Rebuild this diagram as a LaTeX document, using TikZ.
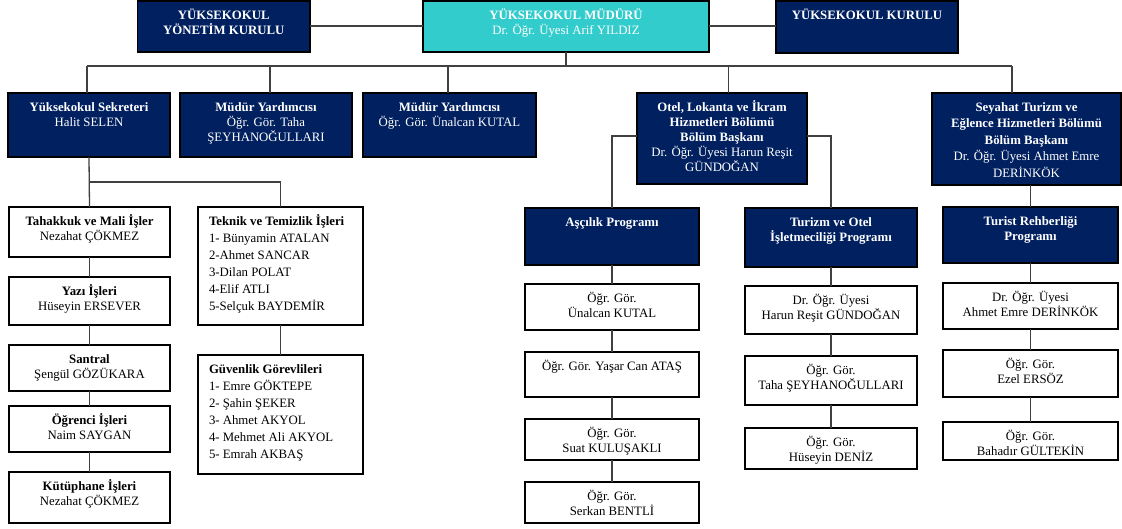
\documentclass[tikz,border=0pt]{standalone}
\usepackage{fontspec}
\setmainfont{Liberation Serif}
\usetikzlibrary{shadows}
\definecolor{navy}{HTML}{002060}
\definecolor{cyanbox}{HTML}{33CCCC}
\definecolor{conn}{HTML}{404040}
\tikzset{
  boxbase/.style={draw=black, line width=1.2pt, inner sep=0pt, outer sep=0pt,
    drop shadow={shadow xshift=1.2pt, shadow yshift=-1.2pt, opacity=0.35, fill=black}},
  dark/.style={boxbase, fill=navy, text=white},
  light/.style={boxbase, fill=white, text=black},
  head/.style={boxbase, fill=cyanbox, text=white},
  wire/.style={draw=conn, line width=1.3pt},
}
\newcommand{\obox}[8]{%
  \pgfmathsetlengthmacro\bw{(#5-#3)*1pt}%
  \pgfmathsetlengthmacro\bh{(#6-#4)*1pt}%
  \node[#2, minimum width=\bw, minimum height=\bh] (#1) at ({(#3+#5)/2},{(#4+#6)/2})
    {\parbox[c][\bh][t]{\bw}{#7\rule{0pt}{18.5pt}#8}};}
\begin{document}
\begin{tikzpicture}[x=1pt,y=-1pt,font=\fontsize{12.8}{14.7}\selectfont]
\useasboundingbox (0,0) rectangle (1122,529);
% top row
\obox{ynk}{dark}{137.5}{1}{310}{52}{\centering}{\textbf{YÜKSEKOKUL}\\\textbf{YÖNETİM KURULU}}
\obox{mud}{head}{423}{1}{709}{52}{\centering}{\textbf{YÜKSEKOKUL MÜDÜRÜ}\\Dr. Öğr. Üyesi Arif YILDIZ}
\obox{kur}{dark}{776}{1}{958}{53}{\centering}{\textbf{YÜKSEKOKUL KURULU}}
% second row
\obox{sek}{dark}{8}{93}{170}{157}{\centering}{\textbf{Yüksekokul Sekreteri}\\Halit SELEN}
\obox{my1}{dark}{180}{93}{352}{157}{\centering\baselineskip=15pt}{\textbf{Müdür Yardımcısı}\\Öğr. Gör. Taha\\ŞEYHANOĞULLARI}
\obox{my2}{dark}{363}{93}{536}{157}{\centering}{\textbf{Müdür Yardımcısı}\\Öğr. Gör. Ünalcan KUTAL}
\obox{otel}{dark}{637}{93}{807}{184}{\centering\baselineskip=15pt}{\textbf{Otel, Lokanta ve İkram}\\\textbf{Hizmetleri Bölümü}\\\textbf{Bölüm Başkanı}\\Dr. Öğr. Üyesi Harun Reşit\\GÜNDOĞAN}
\obox{sey}{dark}{932}{93}{1121}{185}{\centering\baselineskip=16.4pt}{\textbf{Seyahat Turizm ve}\\\textbf{Eğlence Hizmetleri Bölümü}\\\textbf{Bölüm Başkanı}\\Dr. Öğr. Üyesi Ahmet Emre\\DERİNKÖK}
% secretary column
\obox{tah}{light}{9}{207}{170}{257}{\centering}{\textbf{Tahakkuk ve Mali İşler}\\Nezahat ÇÖKMEZ}
\obox{yaz}{light}{9}{277}{170}{325}{\centering}{\textbf{Yazı İşleri}\\Hüseyin ERSEVER}
\obox{san}{light}{9}{345}{170}{391}{\centering}{\textbf{Santral}\\Şengül GÖZÜKARA}
\obox{ogr}{light}{9}{406}{170}{452}{\centering}{\textbf{Öğrenci İşleri}\\Naim SAYGAN}
\obox{kut}{light}{9}{472}{170}{523}{\centering}{\textbf{Kütüphane İşleri}\\Nezahat ÇÖKMEZ}
\obox{tek}{light}{198}{207}{363}{325}{\raggedright\leftskip=11pt\baselineskip=17pt}{\textbf{Teknik ve Temizlik İşleri}\\1- Bünyamin ATALAN\\2-Ahmet SANCAR\\3-Dilan POLAT\\4-Elif ATLI\\5-Selçuk BAYDEMİR}
\obox{guv}{light}{198}{355}{363}{474}{\raggedright\leftskip=11pt\baselineskip=17pt}{\textbf{Güvenlik Görevlileri}\\1- Emre GÖKTEPE\\2- Şahin ŞEKER\\3- Ahmet AKYOL\\4- Mehmet Ali AKYOL\\5- Emrah AKBAŞ}
% Aşçılık column
\obox{asc}{dark}{525}{208}{699}{265}{\centering}{\textbf{Aşçılık Programı}}
\obox{una}{light}{525}{284}{699}{330}{\centering}{Öğr. Gör.\\Ünalcan KUTAL}
\obox{yas}{light}{525}{352}{699}{397}{\centering}{Öğr. Gör. Yaşar Can ATAŞ}
\obox{sua}{light}{525}{419}{699}{460}{\centering}{Öğr. Gör.\\Suat KULUŞAKLI}
\obox{ser}{light}{525}{482}{699}{523}{\centering}{Öğr. Gör.\\Serkan BENTLİ}
% Turizm ve Otel column
\obox{tur}{dark}{745}{208}{917}{267}{\centering}{\textbf{Turizm ve Otel}\\\textbf{İşletmeciliği Programı}}
\obox{har}{light}{745}{286}{917}{334}{\centering}{Dr. Öğr. Üyesi\\Harun Reşit GÜNDOĞAN}
\obox{tah2}{light}{745}{356}{917}{405}{\centering}{Öğr. Gör.\\Taha ŞEYHANOĞULLARI}
\obox{hus}{light}{745}{428}{917}{469}{\centering}{Öğr. Gör.\\Hüseyin DENİZ}
% Turist Rehberliği column
\obox{trh}{dark}{943}{207}{1118}{263}{\centering}{\textbf{Turist Rehberliği}\\\textbf{Programı}}
\obox{ahm}{light}{943}{283}{1118}{329}{\centering}{Dr. Öğr. Üyesi\\Ahmet Emre DERİNKÖK}
\obox{eze}{light}{943}{350}{1118}{397}{\centering}{Öğr. Gör.\\Ezel ERSÖZ}
\obox{bah}{light}{943}{422}{1118}{460}{\centering}{Öğr. Gör.\\Bahadır GÜLTEKİN}
% connectors
\coordinate (toprow) at (0,26);
\draw[wire] (ynk.east |- toprow) -- (mud.west |- toprow);
\draw[wire] (mud.east |- toprow) -- (kur.west |- toprow);
\coordinate (busL) at (87,66);
\coordinate (b2) at (270,66);
\coordinate (b3) at (448,66);
\coordinate (b4) at (728.5,66);
\coordinate (busR) at (1012,66);
\draw[wire] (busL) -- (busR);
\draw[wire] (mud.south) -- (mud.south |- busL);
\draw[wire] (busL) -- (sek.north -| busL);
\draw[wire] (b2) -- (my1.north -| b2);
\draw[wire] (b3) -- (my2.north -| b3);
\draw[wire] (b4) -- (otel.north -| b4);
\draw[wire] (busR) -- (sey.north -| busR);
\coordinate (sj) at (0,182);
\draw[wire] (sek.south) -- (tah.north);
\draw[wire] (sek.south |- sj) -| (tek.north);
\draw[wire] (tah.south) -- (yaz.north);
\draw[wire] (yaz.south) -- (san.north);
\draw[wire] (san.south) -- (ogr.north);
\draw[wire] (ogr.south) -- (kut.north);
\draw[wire] (tek.south) -- (guv.north);
\coordinate (oy) at (0,136);
\draw[wire] (otel.west |- oy) -| (asc.north);
\draw[wire] (otel.east |- oy) -| (tur.north);
\draw[wire] (asc.south) -- (una.north);
\draw[wire] (una.south) -- (yas.north);
\draw[wire] (yas.south) -- (sua.north);
\draw[wire] (sua.south) -- (ser.north);
\draw[wire] (tur.south) -- (har.north);
\draw[wire] (har.south) -- (tah2.north);
\draw[wire] (tah2.south) -- (hus.north);
\draw[wire] (trh.north |- sey.south) -- (trh.north);
\draw[wire] (trh.south) -- (ahm.north);
\draw[wire] (ahm.south) -- (eze.north);
\draw[wire] (eze.south) -- (bah.north);
\end{tikzpicture}
\end{document}
